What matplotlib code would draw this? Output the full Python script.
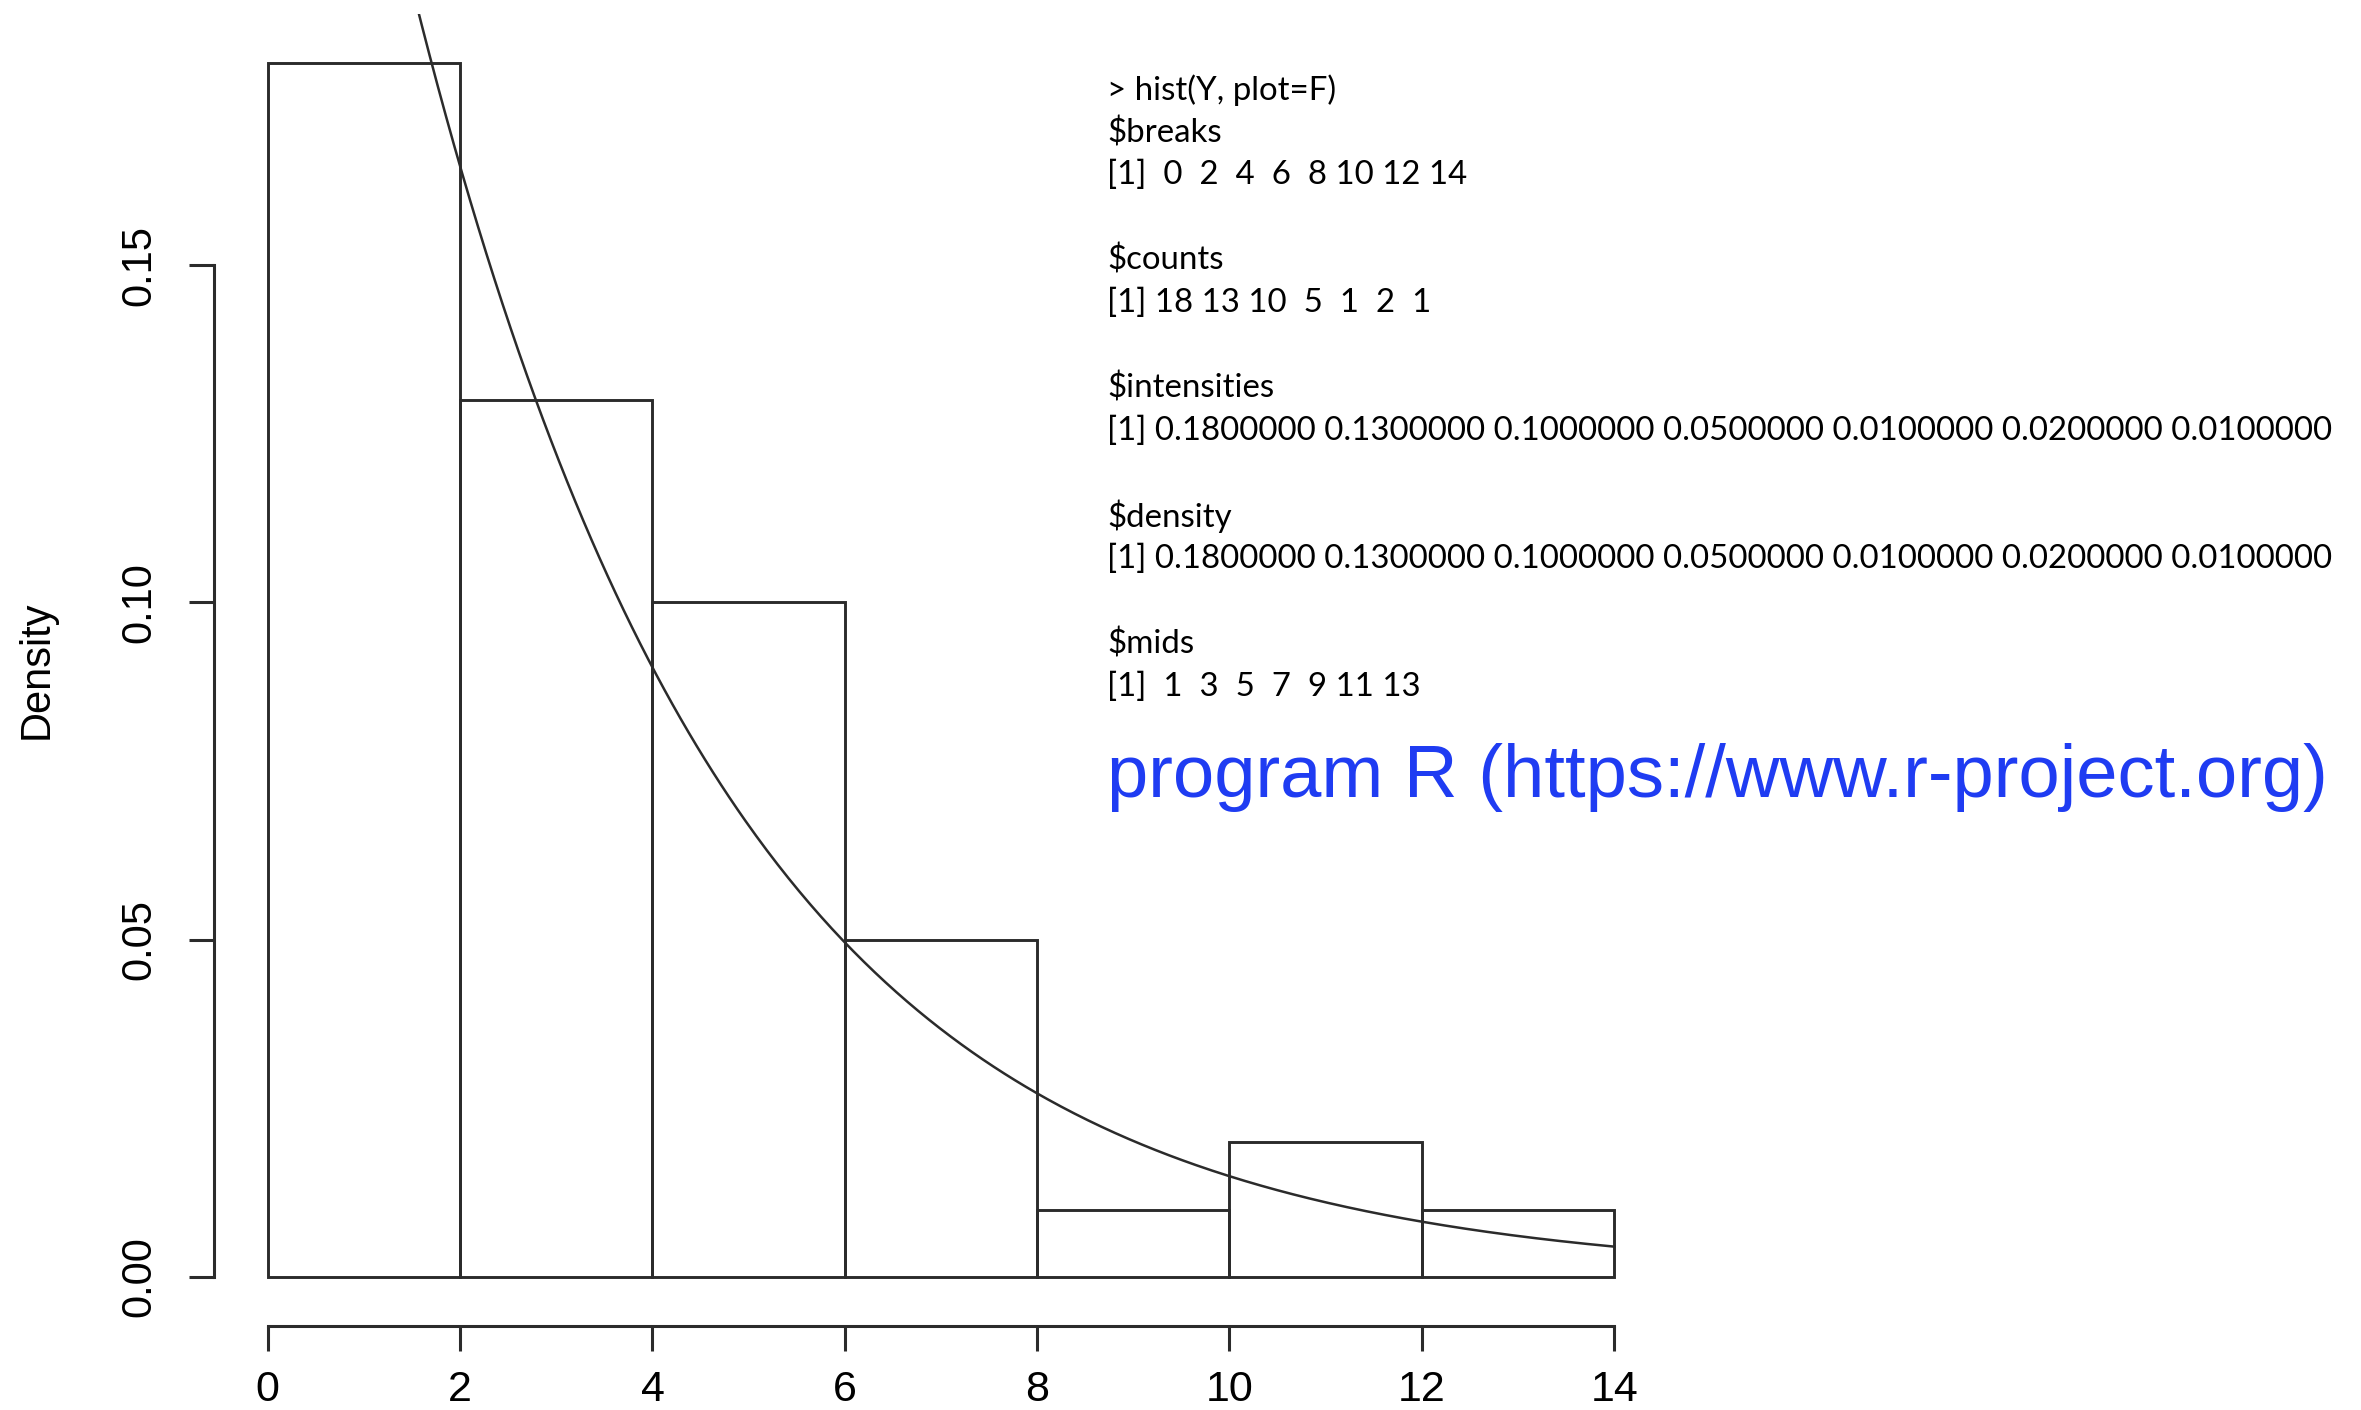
import numpy as np
import matplotlib
matplotlib.use("Agg")
import matplotlib.pyplot as plt

# histogram of Y (n = 50, bin width 2)
breaks = [0, 2, 4, 6, 8, 10, 12, 14]
counts = [18, 13, 10, 5, 1, 2, 1]
density = [0.18, 0.13, 0.10, 0.05, 0.01, 0.02, 0.01]
mids = [1, 3, 5, 7, 9, 11, 13]
exp_rate = 0.3          # fitted exponential density drawn over the bars

yticks = [0.00, 0.05, 0.10, 0.15]
xticks = [0, 2, 4, 6, 8, 10, 12, 14]

INK = "#2b2b2b"
BLUE = "#1f3cf2"

fig = plt.figure(figsize=(23.61, 14.10), dpi=100)
ax = fig.add_axes([0.0906, 0.0599, 0.6159, 0.9301])

# R-style plot region: 4% padding around the data range
ax.set_xlim(breaks[0] - 0.04 * (breaks[-1] - breaks[0]),
            breaks[-1] + 0.04 * (breaks[-1] - breaks[0]))
ax.set_ylim(-0.04 * max(density), 1.04 * max(density))

ax.bar(breaks[:-1], density, width=np.diff(breaks), align="edge",
       fill=False, edgecolor=INK, linewidth=2.1)

xs = np.linspace(breaks[0], breaks[-1], 500)
ax.plot(xs, exp_rate * np.exp(-exp_rate * xs), color=INK, lw=1.8)

for side in ("top", "right"):
    ax.spines[side].set_visible(False)
ax.spines["left"].set_bounds(yticks[0], yticks[-1])
ax.spines["bottom"].set_bounds(xticks[0], xticks[-1])
for side in ("left", "bottom"):
    ax.spines[side].set_linewidth(2.2)
    ax.spines[side].set_color(INK)

ax.set_yticks(yticks)
ax.set_yticklabels([f"{v:.2f}" for v in yticks], rotation=90, va="center",
                   family="Liberation Sans", fontsize=30)
ax.set_xticks(xticks)
ax.set_xticklabels([str(v) for v in xticks], family="Liberation Sans", fontsize=31)
ax.tick_params(axis="both", length=18, width=2.2, color=INK)
ax.tick_params(axis="y", pad=21)
ax.tick_params(axis="x", pad=14)
ax.set_ylabel("Density", family="Liberation Sans", fontsize=30)
ax.yaxis.set_label_coords(-0.108, 0.5)


def rvec(vals, fmt):
    strs = [fmt(v) for v in vals]
    w = max(len(s) for s in strs)
    return "[1] " + " ".join(s.rjust(w) for s in strs)


console = [
    "> hist(Y, plot=F)",
    "$breaks",
    rvec(breaks, str),
    "",
    "$counts",
    rvec(counts, str),
    "",
    "$intensities",
    rvec(density, lambda v: f"{v:.7f}"),
    "",
    "$density",
    rvec(density, lambda v: f"{v:.7f}"),
    "",
    "$mids",
    rvec(mids, str),
]

x0 = 1107 / 2361
for i, line in enumerate(console):
    if not line:
        continue
    y = 1 - (90 + 42.6 * i) / 1410
    fig.text(x0, y, line, ha="left", va="center", fontsize=23.8,
             family="Lato", color="black", parse_math=False)

fig.text(x0, 1 - 778 / 1410, "program R (https://www.r-project.org)",
         ha="left", va="center", fontsize=53.5, family="Liberation Sans",
         color=BLUE)

fig.savefig("out.png", dpi=100)
